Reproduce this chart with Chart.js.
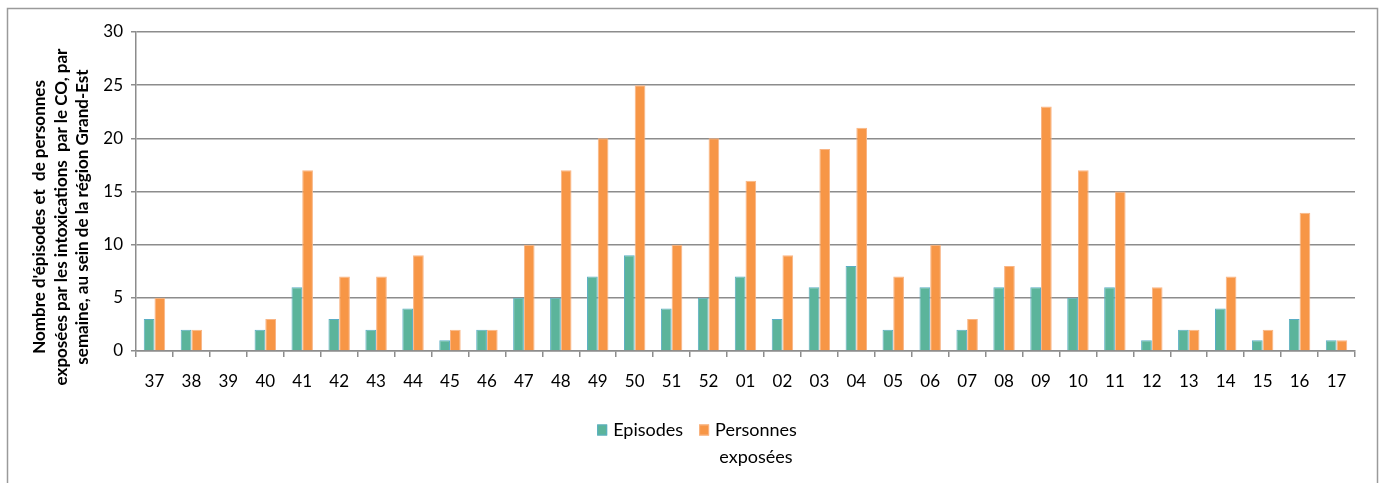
<!DOCTYPE html>
<html>
<head>
<meta charset="utf-8">
<script src="https://cdn.jsdelivr.net/npm/chart.js@4/dist/chart.umd.min.js"></script>
<style>
  html, body { margin: 0; padding: 0; background: #ffffff; }
  #wrap { position: relative; width: 1379px; height: 483px; }
  canvas { display: block; }
</style>
</head>
<body>
<div id="wrap"><canvas id="chart" width="1379" height="483"></canvas></div>
<script>
// Weeks (ISO week numbers, autumn to spring)
const weeks = ['37','38','39','40','41','42','43','44','45','46','47','48','49','50','51','52',
               '01','02','03','04','05','06','07','08','09','10','11','12','13','14','15','16','17'];

// Number of CO poisoning episodes per week
const episodes = [3,2,0,2,6,3,2,4,1,2,5,5,7,9,4,5,7,3,6,8,2,6,2,6,6,5,6,1,2,4,1,3,1];

// Number of people exposed per week
const personnesExposees = [5,2,0,3,17,7,7,9,2,2,10,17,20,25,10,20,16,9,19,21,7,10,3,8,23,17,15,6,2,7,2,13,1];

const yTicks = [0, 5, 10, 15, 20, 25, 30];

const seriesNames = [['Episodes'], ['Personnes', 'exposées']];

const yTitleLines = [
  "Nombre d'épisodes et  de personnes",
  "exposées par les intoxications  par le CO, par",
  "semaine, au sein de la région Grand-Est"
];

const FONT = 'Lato, "Open Sans", "Liberation Sans", sans-serif';
const GRID = '#8c8c8c';

// Frame around the figure, rotated y-axis title and the legend below the axis
const decorPlugin = {
  id: 'decor',
  beforeDraw(chart) {
    const ctx = chart.ctx;
    ctx.save();
    ctx.fillStyle = '#ffffff';
    ctx.fillRect(0, 0, chart.width, chart.height);
    ctx.strokeStyle = '#9a9a9a';
    ctx.lineWidth = 1.5;
    ctx.beginPath();
    ctx.moveTo(7.5, chart.height + 2);
    ctx.lineTo(7.5, 8.5);
    ctx.lineTo(1377.5, 8.5);
    ctx.lineTo(1377.5, chart.height + 2);
    ctx.stroke();
    ctx.restore();
  },
  afterDraw(chart) {
    const ctx = chart.ctx;
    const area = chart.chartArea;

    // y-axis title
    ctx.save();
    ctx.translate(61.5, 217);
    ctx.rotate(-Math.PI / 2);
    ctx.fillStyle = '#000000';
    ctx.font = 'bold 17px ' + FONT;
    ctx.textAlign = 'center';
    ctx.textBaseline = 'middle';
    yTitleLines.forEach((line, i) => {
      ctx.fillText(line, 0, (i - 1) * 21.5);
    });
    ctx.restore();

    // legend
    ctx.save();
    ctx.font = '18px ' + FONT;
    ctx.textBaseline = 'middle';
    const box = 10, gap = 6, itemGap = 16, lineH = 27;
    const rowY = area.bottom + 79;
    const items = chart.data.datasets.map((ds, i) => {
      const lines = seriesNames[i];
      const w = Math.max(...lines.map(l => ctx.measureText(l).width));
      return { ds, lines, w };
    });
    const total = items.reduce((s, it) => s + box + gap + it.w, 0) + itemGap * (items.length - 1);
    let x = 697 - total / 2;
    items.forEach(it => {
      ctx.fillStyle = it.ds.backgroundColor;
      ctx.fillRect(x, rowY - 5.5, box, 11);
      ctx.strokeStyle = it.ds.borderColor;
      ctx.lineWidth = 1;
      ctx.strokeRect(x + 0.5, rowY - 5, box - 1, 10);
      const tx = x + box + gap;
      ctx.fillStyle = '#000000';
      ctx.textAlign = 'center';
      it.lines.forEach((l, j) => {
        ctx.fillText(l, tx + it.w / 2, rowY + j * lineH);
      });
      x = tx + it.w + itemGap;
    });
    ctx.restore();
  }
};

new Chart(document.getElementById('chart'), {
  type: 'bar',
  data: {
    labels: weeks,
    datasets: [
      {
        label: seriesNames[0].join(' '),
        data: episodes,
        backgroundColor: '#5bb49b',
        borderColor: '#5aaec4',
        borderWidth: 1
      },
      {
        label: seriesNames[1].join(' '),
        data: personnesExposees,
        backgroundColor: '#f79646',
        borderColor: '#f9b585',
        borderWidth: 1
      }
    ]
  },
  options: {
    responsive: false,
    devicePixelRatio: 1,
    animation: false,
    layout: { padding: { left: 0, right: 24, top: 32, bottom: 90 } },
    datasets: {
      bar: { categoryPercentage: 0.58, barPercentage: 1.0 }
    },
    scales: {
      x: {
        offset: true,
        grid: {
          offset: true,
          drawOnChartArea: false,
          drawTicks: true,
          tickLength: 6,
          color: GRID,
          lineWidth: 1.5
        },
        border: { color: GRID, width: 1.5 },
        ticks: {
          color: '#000000',
          font: { family: FONT, size: 17 },
          padding: 14,
          maxRotation: 0,
          autoSkip: false
        },
        afterFit(scale) { scale.height = 42; }
      },
      y: {
        min: 0,
        max: 30,
        afterBuildTicks(scale) { scale.ticks = yTicks.map(v => ({ value: v })); },
        grid: {
          color: GRID,
          lineWidth: 1.5,
          drawTicks: true,
          tickLength: 5
        },
        border: { color: GRID, width: 1.5 },
        ticks: {
          color: '#000000',
          font: { family: FONT, size: 17 },
          padding: 8
        },
        afterFit(scale) { scale.width = 136; }
      }
    },
    plugins: {
      tooltip: { enabled: false },
      legend: { display: false }
    }
  },
  plugins: [decorPlugin]
});
</script>
</body>
</html>
